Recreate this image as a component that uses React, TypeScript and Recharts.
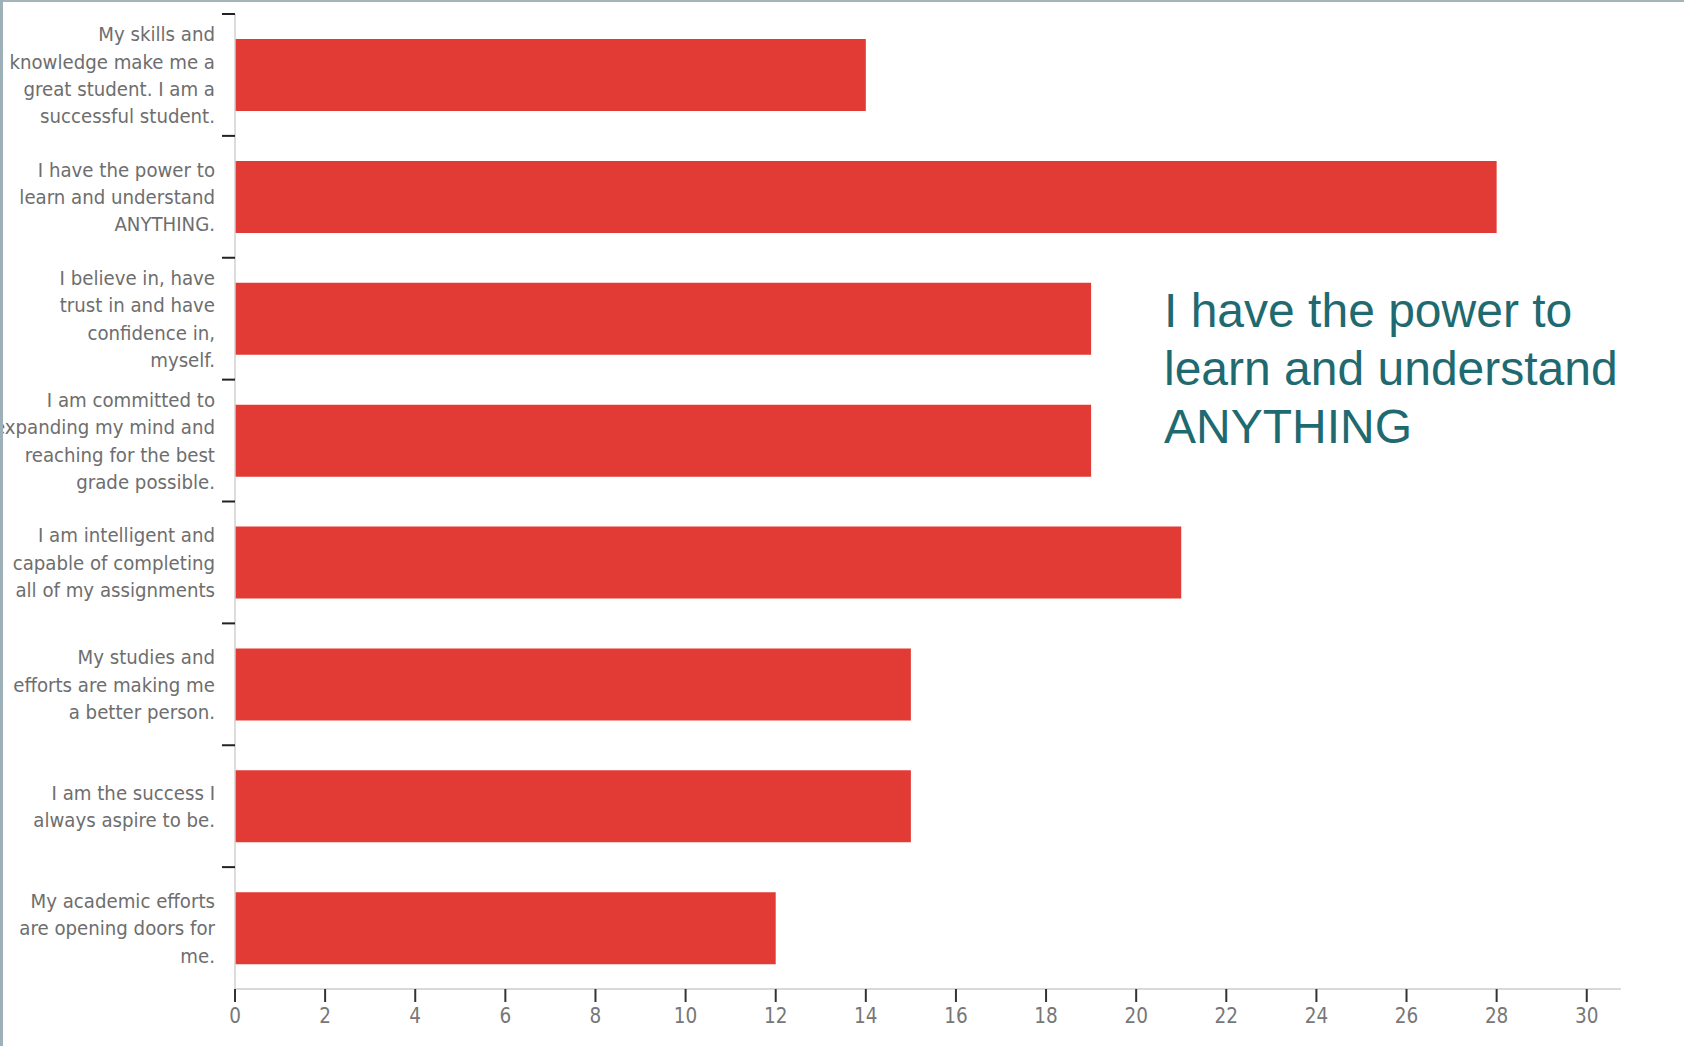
import React from "react";
import { BarChart, Bar, XAxis, YAxis } from "recharts";

const categories: string[] = [
  "My skills and\nknowledge make me a\ngreat student. I am a\nsuccessful student.",
  "I have the power to\nlearn and understand\nANYTHING.",
  "I believe in, have\ntrust in and have\nconfidence in,\nmyself.",
  "I am committed to\nexpanding my mind and\nreaching for the best\ngrade possible.",
  "I am intelligent and\ncapable of completing\nall of my assignments",
  "My studies and\nefforts are making me\na better person.",
  "I am the success I\nalways aspire to be.",
  "My academic efforts\nare opening doors for\nme.",
];
const values: number[] = [14, 28, 19, 19, 21, 15, 15, 12];
const xTicks: number[] = [0, 2, 4, 6, 8, 10, 12, 14, 16, 18, 20, 22, 24, 26, 28, 30];
const annotationLines: string[] = ["I have the power to", "learn and understand", "ANYTHING"];

const W = 1684;
const H = 1046;
const M_TOP = 14;
const M_BOTTOM = 7;
const X_AXIS_H = 50;
const PLOT_H = H - M_TOP - M_BOTTOM - X_AXIS_H;
const HALF_BAND = PLOT_H / categories.length / 2;
const FONT = "'DejaVu Sans Condensed', 'DejaVu Sans', sans-serif";
const LINE_H = 27.4;

const data = categories.map((label, i) => ({ label, value: values[i] }));

const YTick = (props: any) => {
  const { x, y, payload } = props;
  const lines: string[] = String(payload.value).split("\n");
  const startY = y - ((lines.length - 1) * LINE_H) / 2;
  return (
    <g>
      <line x1={x + 7} x2={x + 20} y1={y - HALF_BAND} y2={y - HALF_BAND} stroke="#222" strokeWidth={2} />
      <text x={x} y={startY} textAnchor="end" fontFamily={FONT} fontSize={20.2} fill="#6e6e6e">
        {lines.map((l, i) => (
          <tspan key={i} x={x} y={startY + i * LINE_H} dy="0.36em">
            {l}
          </tspan>
        ))}
      </text>
    </g>
  );
};

export default function App() {
  return (
    <div style={{ position: "absolute", left: 0, top: 0, width: W, height: H, background: "#fff", overflow: "hidden" }}>
      <BarChart
        width={W}
        height={H}
        data={data}
        layout="vertical"
        margin={{ top: M_TOP, right: 63, bottom: M_BOTTOM, left: 0 }}
      >
        <XAxis
          type="number"
          domain={[0, 30.76]}
          ticks={xTicks}
          interval={0}
          height={X_AXIS_H}
          axisLine={{ stroke: "#d9d9d9", strokeWidth: 2 }}
          tickLine={{ stroke: "#333", strokeWidth: 2 }}
          tickSize={13}
          tickMargin={6}
          tick={{ fontFamily: FONT, fontSize: 20.5, fill: "#777" }}
        />
        <YAxis
          type="category"
          dataKey="label"
          width={235}
          interval={0}
          axisLine={{ stroke: "#d0d0d0", strokeWidth: 1.5 }}
          tickLine={false}
          tickSize={13}
          tickMargin={7}
          tick={<YTick />}
        />
        <Bar dataKey="value" fill="#e23a35" barSize={72} isAnimationActive={false} />
      </BarChart>
      <div
        style={{
          position: "absolute",
          left: 1164,
          top: 282,
          fontFamily: "'Liberation Sans', Arial, sans-serif",
          fontSize: 48,
          lineHeight: "58px",
          color: "#1f6a70",
          whiteSpace: "nowrap",
        }}
      >
        {annotationLines.map((l, i) => (
          <div key={i}>{l}</div>
        ))}
      </div>
      <div style={{ position: "absolute", left: 0, top: 0, width: W, height: 2, background: "#a3b5bb" }} />
      <div style={{ position: "absolute", left: 0, top: 0, width: 3, height: H, background: "#9fb1b8" }} />
    </div>
  );
}
